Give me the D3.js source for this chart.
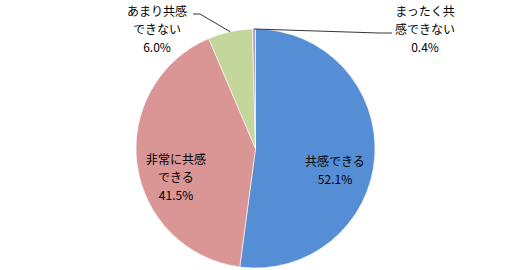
<!DOCTYPE html>
<html lang="ja">
<head>
<meta charset="UTF-8">
<title>共感度</title>
<script src="https://d3js.org/d3.v7.min.js"></script>
<style>
  body { margin: 0; background: #fff; }
  svg { display: block; font-family: "Noto Sans CJK JP", sans-serif; }
</style>
</head>
<body>
<svg id="chart" width="515" height="270"></svg>
<script>
// data, clockwise from 12 o'clock
const categories = ["共感できる", "非常に共感できる", "あまり共感できない", "まったく共感できない"];
const values = [52.1, 41.5, 6.0, 0.4];
const colors = ["#558ed5", "#d99694", "#c3d69b", "#b3a2c7"];
// label lines as they wrap in the picture
const labelLines = [
  ["共感できる"],
  ["非常に共感", "できる"],
  ["あまり共感", "できない"],
  ["まったく共", "感できない"]
];
// label centre x / first baseline
const labelPos = [[335, 166], [176, 164], [157, 16], [425, 16]];

const svg = d3.select("#chart");
const cx = 255.5, cy = 148.5, r = 119.5;

const pie = d3.pie().sort(null).value(d => d)(values);
const arc = d3.arc().innerRadius(0).outerRadius(r);

const g = svg.append("g").attr("transform", `translate(${cx},${cy})`);
g.selectAll("path")
  .data(pie)
  .enter().append("path")
  .attr("d", arc)
  .attr("fill", (d, i) => colors[i])
  .attr("stroke", "#fff")
  .attr("stroke-width", 0.6);

// leader lines for the two small slices
function edgePoint(d) {
  const a = (d.startAngle + d.endAngle) / 2;
  return [cx + Math.sin(a) * r, cy - Math.cos(a) * r];
}
const p2 = edgePoint(pie[2]);
const p3 = edgePoint(pie[3]);
svg.append("polyline")
  .attr("points", [[193, 14], [200, 14], p2].map(p => p.join(",")).join(" "))
  .attr("fill", "none").attr("stroke", "#000").attr("stroke-width", 0.8);
svg.append("polyline")
  .attr("points", [p3, [379, 33], [392, 33]].map(p => p.join(",")).join(" "))
  .attr("fill", "none").attr("stroke", "#000").attr("stroke-width", 0.8);

// labels
labelLines.forEach((lines, i) => {
  const [x, y] = labelPos[i];
  const t = svg.append("text")
    .attr("text-anchor", "middle")
    .attr("font-size", 12)
    .attr("fill", "#000");
  lines.concat([values[i].toFixed(1) + "%"]).forEach((s, k) => {
    t.append("tspan").attr("x", x).attr("y", y + k * 18).text(s);
  });
});
</script>
</body>
</html>
